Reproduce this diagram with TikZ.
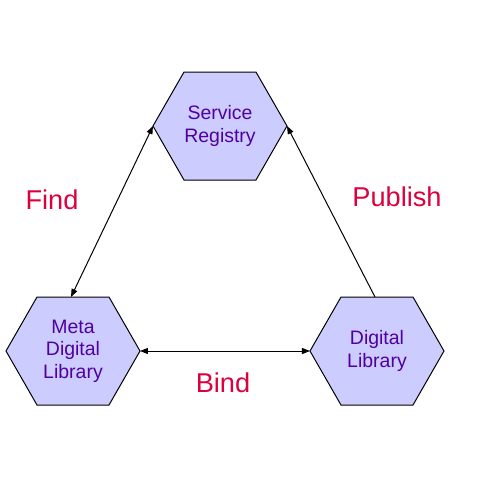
\documentclass[tikz,border=0pt]{standalone}
\usepackage{fontspec}
\setmainfont{Liberation Sans}
\usetikzlibrary{arrows.meta}

\definecolor{hexfill}{RGB}{204,204,255}
\definecolor{hexink}{RGB}{80,0,160}
\definecolor{labelred}{RGB}{220,0,60}

\begin{document}
\begin{tikzpicture}[x=0.75pt,y=-0.75pt,
    hexa/.style={fill=hexfill,draw=black,line width=0.75pt},
    hextext/.style={text=hexink,align=center,inner sep=0pt,
      font=\fontsize{14.6}{16.8}\selectfont},
    rolelabel/.style={text=labelred,font=\fontsize{20.4}{24}\selectfont},
    link/.style={line width=0.75pt,>={Triangle[length=6pt,width=4.5pt]}}]
  \useasboundingbox (0,0) rectangle (480,480);
  \def\hw{67}\def\hh{54}\def\he{36}
  % tri sestiuhelniky; vrcholy pojmenovane pro spojnice
  \foreach \nm/\pos/\txt in {sr/{220,126}/{Service\\Registry},
      mdl/{73,351}/{Meta\\Digital\\Library},
      dl/{377,351}/{Digital\\Library}} {
    \draw[hexa] (\pos) ++(-\hw,0) -- ++({\hw-\he},-\hh) -- ++({2*\he},0)
      -- ++({\hw-\he},\hh) -- ++({\he-\hw},\hh) -- ++({-2*\he},0) -- cycle;
    \node[hextext] (\nm) at (\pos) {\txt};
    \path (\pos) ++(-\hw,0) coordinate (\nm-w);
    \path (\pos) ++(\hw,0) coordinate (\nm-e);
    \path (\pos) ++(-2,-\hh) coordinate (\nm-n);
  }
  % spojnice
  \draw[link,<->] (mdl-n) -- (sr-w);
  \draw[link,->] (dl-n) -- (sr-e);
  \draw[link,<->] (mdl-e) -- (dl-w);
  \node[rolelabel] (find) at (52,200) {Find};
  \node[rolelabel] (publish) at (397,197) {Publish};
  \node[rolelabel] (bind) at (223,383) {Bind};
\end{tikzpicture}
\end{document}
